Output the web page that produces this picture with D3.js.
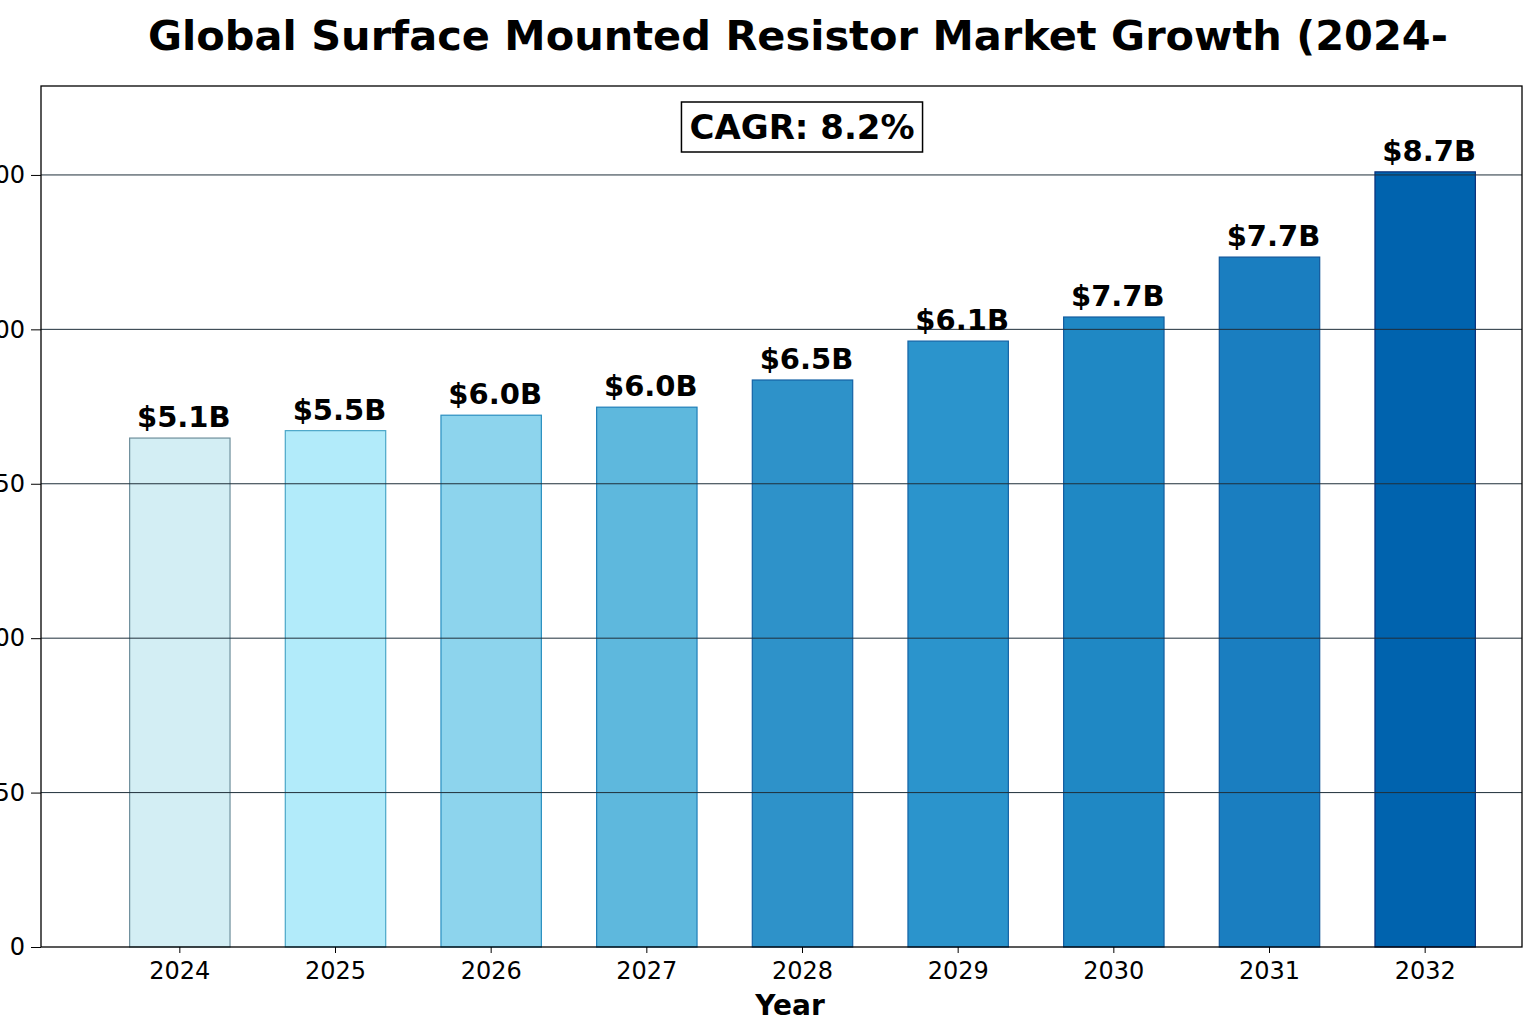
<!DOCTYPE html>
<html>
<head>
<meta charset="utf-8">
<script src="https://cdn.jsdelivr.net/npm/d3@7"></script>
<style>
  body { margin: 0; background: #fff; }
  svg { display: block; font-family: "DejaVu Sans", sans-serif; }
</style>
</head>
<body>
<div id="chart"></div>
<script>
// values (bar heights in axis units)
const years = ["2024", "2025", "2026", "2027", "2028", "2029", "2030", "2031", "2032"];
const values = [824, 836, 861, 874, 918, 981, 1020, 1117, 1255];
const valueLabels = ["$5.1B", "$5.5B", "$6.0B", "$6.0B", "$6.5B", "$6.1B", "$7.7B", "$7.7B", "$8.7B"];
const yTicks = [0, 250, 500, 750, 1000, 1250];
const yTickLabels = ["0", "250", "500", "750", "1000", "1200"];
const cagrText = "CAGR: 8.2%";

const barColors = ["#d3eef4", "#b2ebfa", "#8dd4ed", "#5eb8dd", "#2e92c9", "#2b94cc", "#1f88c4", "#1a7ec0", "#0063ae"];
const barStrokes = ["#6e8f9c", "#4aa6c8", "#2a8fc0", "#1f7fb8", "#1463a6", "#1463a6", "#135da0", "#10569a", "#0a2f7a"];

const width = 1536;
const height = 1024;
const margin = { top: 86, right: 14, bottom: 77, left: 41 };

const svg = d3.select("#chart")
  .append("svg")
    .attr("width", width)
    .attr("height", height);

const x = d3.scaleBand()
  .domain(years)
  .range([102, 1503])
  .paddingInner(0.355)
  .paddingOuter(0.1775);

const y = d3.scaleLinear()
  .domain([0, 1394])
  .range([height - margin.bottom, margin.top]);

// bars
svg.append("g")
  .selectAll("rect")
  .data(values)
  .join("rect")
    .attr("x", (d, i) => x(years[i]))
    .attr("y", d => y(d))
    .attr("width", x.bandwidth())
    .attr("height", d => y(0) - y(d))
    .attr("fill", (d, i) => barColors[i])
    .attr("stroke", (d, i) => barStrokes[i])
    .attr("stroke-width", 1.2);

// grid lines over the bars
svg.append("g")
  .selectAll("line")
  .data(yTicks.slice(1))
  .join("line")
    .attr("x1", margin.left)
    .attr("x2", width - margin.right)
    .attr("y1", d => y(d))
    .attr("y2", d => y(d))
    .attr("stroke", "#1f2f3a")
    .attr("stroke-width", 1);

// frame
svg.append("rect")
  .attr("x", margin.left)
  .attr("y", margin.top)
  .attr("width", width - margin.right - margin.left)
  .attr("height", height - margin.bottom - margin.top)
  .attr("fill", "none")
  .attr("stroke", "#000")
  .attr("stroke-width", 1.3);

// y axis (labels run off the left edge like the reference)
const yAxis = svg.append("g")
  .attr("transform", `translate(${margin.left},0)`)
  .call(d3.axisLeft(y)
    .tickValues(yTicks)
    .tickSize(10)
    .tickPadding(6)
    .tickFormat((d, i) => yTickLabels[i]));
yAxis.select(".domain").remove();
yAxis.selectAll("text")
  .attr("font-size", 24)
  .attr("font-family", "DejaVu Sans")
  .attr("fill", "#000");
yAxis.selectAll("line").attr("stroke", "#000");

// x axis
const xAxis = svg.append("g")
  .attr("transform", `translate(0,${height - margin.bottom})`)
  .call(d3.axisBottom(x).tickSize(6).tickPadding(9));
xAxis.select(".domain").remove();
xAxis.selectAll("text")
  .attr("font-size", 24)
  .attr("font-family", "DejaVu Sans")
  .attr("fill", "#000");
xAxis.selectAll("line").attr("stroke", "#000");

// value labels
svg.append("g")
  .selectAll("text")
  .data(values)
  .join("text")
    .attr("x", (d, i) => x(years[i]) + x.bandwidth() / 2 + 4)
    .attr("y", d => y(d) - 11)
    .attr("text-anchor", "middle")
    .attr("font-size", 29)
    .attr("font-weight", "bold")
    .text((d, i) => valueLabels[i]);

// CAGR box
const cagr = svg.append("g");
const cagrLabel = cagr.append("text")
  .attr("x", 802)
  .attr("y", 139)
  .attr("text-anchor", "middle")
  .attr("font-size", 34)
  .attr("font-weight", "bold")
  .text(cagrText);
const bb = cagrLabel.node().getBBox();
cagr.insert("rect", "text")
  .attr("x", bb.x - 8)
  .attr("y", 102)
  .attr("width", bb.width + 16)
  .attr("height", 50)
  .attr("fill", "#fff")
  .attr("stroke", "#000")
  .attr("stroke-width", 1.5);

// title and axis label
svg.append("text")
  .attr("x", 798)
  .attr("y", 50)
  .attr("text-anchor", "middle")
  .attr("font-size", 41.5)
  .attr("font-weight", "bold")
  .text("Global Surface Mounted Resistor Market Growth (2024-");

svg.append("text")
  .attr("x", 790)
  .attr("y", 1015)
  .attr("text-anchor", "middle")
  .attr("font-size", 28)
  .attr("font-weight", "bold")
  .text("Year");
</script>
</body>
</html>
